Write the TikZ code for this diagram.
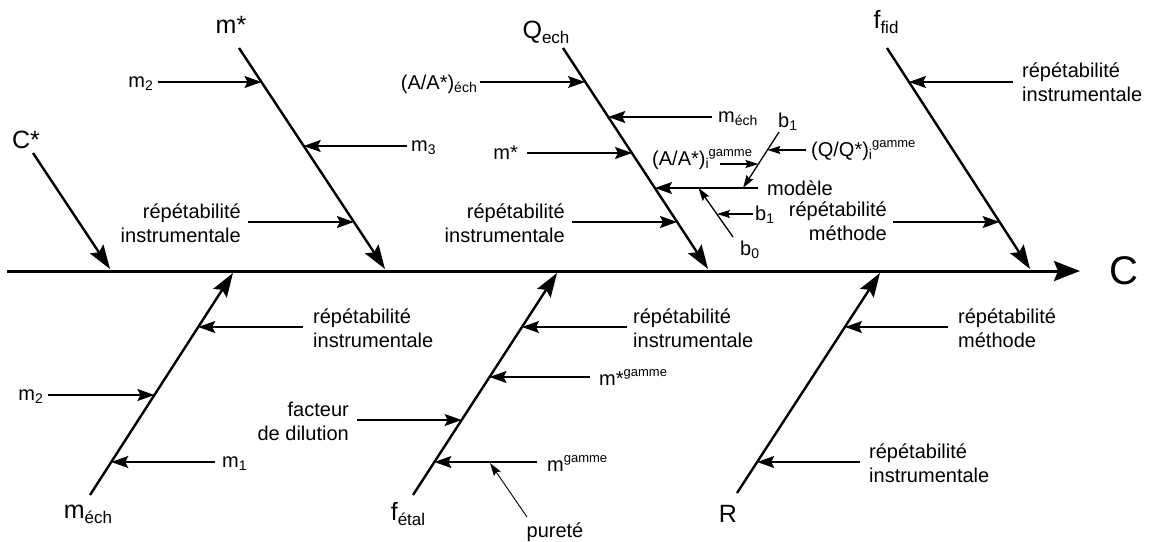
\documentclass[tikz,border=0pt]{standalone}
\usepackage{fontspec}
\setmainfont{Liberation Sans}
\usetikzlibrary{arrows.meta}
\newcommand\lsub[1]{\raisebox{-0.18em}{\fontsize{14}{14}\selectfont #1}}
\newcommand\lsup[1]{\raisebox{0.45em}{\fontsize{13}{13}\selectfont #1}}
\newcommand\bsub[1]{\raisebox{-0.22em}{\fontsize{17}{17}\selectfont #1}}
\begin{document}
\begin{tikzpicture}[x=1pt,y=-1pt,
  spine/.style={line width=3pt,-{Stealth[length=26pt,width=20pt,inset=4pt]}},
  bone/.style={line width=2.4pt,-{Stealth[length=24pt,width=16pt,inset=4pt]}},
  feat/.style={line width=1.6pt,-{Stealth[length=17pt,width=12pt,inset=3pt]}},
  sfeat/.style={line width=1.3pt,-{Stealth[length=13pt,width=8pt,inset=2pt]}},
  tfeat/.style={line width=0.9pt,-{Stealth[length=13pt,width=8pt,inset=2pt]}},
  big/.style={font=\fontsize{25}{30}\selectfont, inner sep=0pt, anchor=base},
  lbl/.style={font=\fontsize{20}{24}\selectfont, inner xsep=5pt, inner ysep=0pt},
  lblL/.style={lbl, anchor=east, align=right},
  lblR/.style={lbl, anchor=west, align=left}]
\fill[white] (0,0) rectangle (1151,541);
\useasboundingbox (0,0) rectangle (1151,541);

% spine
\coordinate (s0) at (7,271);
\coordinate (s1) at (1080,271);
\node[font=\fontsize{40}{40}\selectfont, inner sep=0pt, anchor=base] (C) at (1124,284) {C};
\draw[spine] (s0) -- (s1);

% main bones
\node[big] (Cs) at (26,148) {C*};
\coordinate (CsA) at (33,153); \coordinate (CsB) at (110,269);
\draw[bone] (CsA) -- (CsB);

\node[big] (ms) at (231,33) {m*};
\coordinate (msA) at (239,48); \coordinate (msB) at (385,269);
\draw[bone] (msA) -- (msB);

\node[big] (Q) at (546,38) {Q\bsub{ech}};
\coordinate (QA) at (563,48); \coordinate (QB) at (708,269);
\draw[bone] (QA) -- (QB);

\node[big] (ff) at (886,28) {f\bsub{fid}};
\coordinate (ffA) at (887,48); \coordinate (ffB) at (1030,269);
\draw[bone] (ffA) -- (ffB);

\node[big] (me) at (88,518) {m\bsub{éch}};
\coordinate (meA) at (90,495); \coordinate (meB) at (233,273);
\draw[bone] (meA) -- (meB);

\node[big] (fe) at (408,520) {f\bsub{étal}};
\coordinate (feA) at (413,495); \coordinate (feB) at (557,273);
\draw[bone] (feA) -- (feB);

\node[big] (R) at (728,522) {R};
\coordinate (RA) at (737,493); \coordinate (RB) at (880,273);
\draw[bone] (RA) -- (RB);

% m* bone
\node[lblL] (l1) at (158,83.5) {m\lsub{2}};
\coordinate (t1) at (261.5,82); \draw[feat] (l1.east |- t1) -- (t1);
\node[lblR, inner xsep=4pt] (l2) at (407,147.5) {m\lsub{3}};
\coordinate (t2) at (303.7,146); \draw[feat] (l2.west |- t2) -- (t2);
\node[lblL, inner xsep=7pt] (l3) at (248,223) {répétabilité\\instrumentale};
\coordinate (t3) at (353.9,222); \draw[feat] (l3.east |- t3) -- (t3);

% Q bone
\node[lblL, inner xsep=3pt] (l4) at (480,84) {(A/A*)\lsub{éch}};
\coordinate (t4) at (585,82); \draw[feat] (l4.east |- t4) -- (t4);
\node[lblR, inner xsep=6pt] (l5) at (712,118.5) {m\lsub{éch}};
\coordinate (t5) at (608.3,117); \draw[feat] (l5.west |- t5) -- (t5);
\node[lblL, inner xsep=9pt] (l6) at (527,153) {m*};
\coordinate (t6) at (632,153); \draw[feat] (l6.east |- t6) -- (t6);
\node[lblR, inner xsep=9pt] (l7) at (758,188) {modèle};
\coordinate (t7) at (655,188); \draw[feat] (l7.west |- t7) -- (t7);
\node[lblL, inner xsep=7pt] (l8) at (572,223) {répétabilité\\instrumentale};
\coordinate (t8) at (677,222); \draw[feat] (l8.east |- t8) -- (t8);

% model sub-bones
\node[lbl, anchor=base west, inner sep=0pt] (b1a) at (778,127) {b\lsub{1}};
\coordinate (bA) at (779,132); \coordinate (bB) at (743,188);
\draw[sfeat] (bA) -- (bB);
\node[lbl, anchor=base west, inner xsep=5pt] (l9) at (806,156) {(Q/Q*)\lsub{i}\lsup{gamme}};
\coordinate (t9) at (767.4,150); \draw[sfeat] (l9.west |- t9) -- (t9);
\node[lbl, anchor=base west, inner sep=0pt] (l10) at (652,165) {(A/A*)\lsub{i}\lsup{gamme}};
\coordinate (s10) at (720,164); \coordinate (t10) at (758.4,164);
\draw[sfeat] (s10) -- (t10);

\node[lbl, anchor=base west, inner sep=0pt] (b0) at (740,255) {b\lsub{0}};
\coordinate (b0A) at (733,237); \coordinate (b0B) at (698.5,188);
\draw[sfeat] (b0A) -- (b0B);
\node[lbl, anchor=base west, inner xsep=2pt] (b1b) at (753,220) {b\lsub{1}};
\coordinate (t11) at (717,214); \draw[sfeat] (b1b.west |- t11) -- (t11);

% f_fid bone
\node[lblR, inner xsep=9pt] (l12) at (1013,82) {répétabilité\\instrumentale};
\coordinate (t12) at (909,82); \draw[feat] (l12.west |- t12) -- (t12);
\node[lblL, inner xsep=6pt] (l13) at (893,221) {répétabilité\\méthode};
\coordinate (t13) at (999.6,222); \draw[feat] (l13.east |- t13) -- (t13);

% m_ech bone
\node[lblR, inner xsep=10pt] (l14) at (303,328) {répétabilité\\instrumentale};
\coordinate (t14) at (198.2,327); \draw[feat] (l14.west |- t14) -- (t14);
\node[lblL, inner xsep=5pt] (l15) at (48,396.5) {m\lsub{2}};
\coordinate (t15) at (154.4,395); \draw[feat] (l15.east |- t15) -- (t15);
\node[lblR, inner xsep=7pt] (l16) at (215,463.5) {m\lsub{1}};
\coordinate (t16) at (111.3,462); \draw[feat] (l16.west |- t16) -- (t16);

% f_etal bone
\node[lblR, inner xsep=6pt] (l17) at (627,328) {répétabilité\\instrumentale};
\coordinate (t17) at (522,327); \draw[feat] (l17.west |- t17) -- (t17);
\node[lblR, inner xsep=9pt] (l18) at (590,377) {m*\lsup{gamme}};
\coordinate (t18) at (489.5,377); \draw[feat] (l18.west |- t18) -- (t18);
\node[lblL, inner xsep=8pt] (l19) at (357,421) {facteur\\de dilution};
\coordinate (t19) at (461.6,420); \draw[feat] (l19.east |- t19) -- (t19);
\node[lblR, inner xsep=10pt] (l20) at (537,463) {m\lsup{gamme}};
\coordinate (t20) at (434.4,462); \draw[feat] (l20.west |- t20) -- (t20);
\node[lbl, anchor=base, inner sep=0pt] (pu) at (555,537) {pureté};
\coordinate (puA) at (527,517); \coordinate (puB) at (490,463);
\draw[tfeat] (puA) -- (puB);

% R bone
\node[lblR, inner xsep=10pt] (l21) at (948,328) {répétabilité\\méthode};
\coordinate (t21) at (845,327); \draw[feat] (l21.west |- t21) -- (t21);
\node[lblR, inner xsep=9pt] (l22) at (860,463) {répétabilité\\instrumentale};
\coordinate (t22) at (757.2,462); \draw[feat] (l22.west |- t22) -- (t22);
\end{tikzpicture}
\end{document}
